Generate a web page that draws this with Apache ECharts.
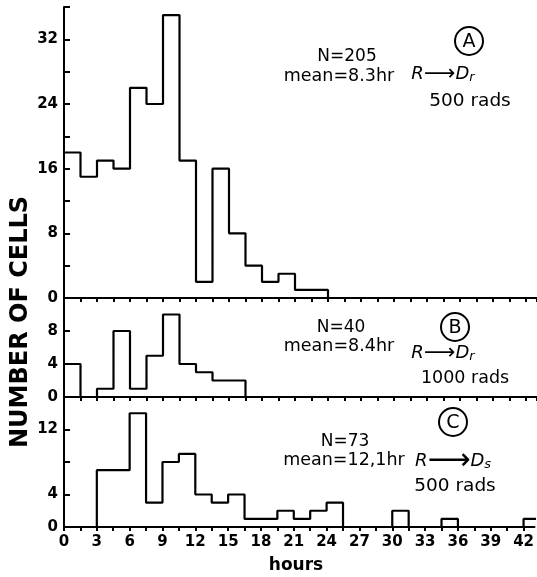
<!DOCTYPE html>
<html><head><meta charset="utf-8">
<script src="https://cdn.jsdelivr.net/npm/echarts@6/dist/echarts.min.js"></script>
<style>html,body{margin:0;padding:0;background:#fff}#c{width:537px;height:577px}</style>
</head><body><div id="c"></div><script>
// Histogram bins: width 1.5 hours starting at 0
const binWidth = 1.5;
const countsA = [18,15,17,16,26,24,35,17,2,16,8,4,2,3,1,1];
const countsB = [4,0,1,8,1,5,10,4,3,2,2];
const countsC = [0,0,7,7,14,3,8,9,4,3,4,1,1,2,1,2,3,0,0,0,2,0,0,1,0,0,0,0,1];
const xTickLabels = [0,3,6,9,12,15,18,21,24,27,30,33,36,39,42];
const yLabelsA = [0,8,16,24,32];
const yLabelsB = [0,4,8];
const yLabelsC = [0,4,12];
const xMax = 43;
const yMax = [36, 12, 16];

function stepData(counts){
  const d = counts.map((c,i)=>[i*binWidth, c]);
  d.push([counts.length*binWidth, 0]);
  return d;
}

const FONT = 'DejaVu Sans';
const grids = [
  {left:64, right:0, top:7, height:291},
  {left:64, right:0, top:298, height:99},
  {left:64, right:0, top:397, height:130}
];
const yLabelSets = [yLabelsA, yLabelsB, yLabelsC];

const xAxes = grids.map((g,i)=>({
  type:'value', gridIndex:i, min:0, max:xMax, interval:binWidth,
  splitLine:{show:false},
  axisLine:{show:true, onZero:false, lineStyle:{color:'#000', width:2}},
  axisTick:{show:true, inside:false, length:4, lineStyle:{color:'#000', width:2}},
  axisLabel:{show:i===2, color:'#000', fontFamily:FONT, fontWeight:'bold', fontSize:15, margin:8,
    showMaxLabel:false,
    formatter:v=>xTickLabels.includes(Math.round(v*10)/10)?String(v):''}
}));

const yAxes = grids.map((g,i)=>({
  type:'value', gridIndex:i, min:0, max:yMax[i], interval:4,
  splitLine:{show:false},
  axisLine:{show:true, lineStyle:{color:'#000', width:2}},
  axisTick:{show:true, inside:true, length:6, lineStyle:{color:'#000', width:2}},
  axisLabel:{color:'#000', fontFamily:FONT, fontWeight:'bold', fontSize:15, margin:6,
    formatter:v=>yLabelSets[i].includes(v)?String(v):''}
}));

const series = [countsA,countsB,countsC].map((c,i)=>({
  type:'line', xAxisIndex:i, yAxisIndex:i, step:'end', symbol:'none',
  data:stepData(c), clip:true,
  lineStyle:{color:'#000', width:2.2}
}));

function txt(x,y,text,size){
  return {type:'text', x:x, y:y, style:{text:text, fill:'#000',
    font:(size)+'px "'+FONT+'"', align:'center', verticalAlign:'middle'}};
}
function circled(x,y,letter){
  return [
    {type:'circle', shape:{cx:x, cy:y, r:14}, style:{fill:'none', stroke:'#000', lineWidth:2}},
    {type:'text', x:x, y:y+1, style:{text:letter, fill:'#000', font:'19px "'+FONT+'"', align:'center', verticalAlign:'middle'}}
  ];
}
function reaction(x,y,arrowSize,sub){
  return {type:'text', x:x, y:y, style:{
    text:'{i|R}{a|⟶}{i|D}{s|'+sub+'}', align:'center', verticalAlign:'middle',
    rich:{
      i:{fontFamily:FONT, fontStyle:'italic', fontSize:18, color:'#000'},
      a:{fontFamily:FONT, fontSize:arrowSize, color:'#000'},
      s:{fontFamily:FONT, fontStyle:'italic', fontSize:13, color:'#000', padding:[8,0,0,0]}
    }}};
}

const graphics = [
  txt(347,57,'N=205',17), txt(339,76,'mean=8.3hr',17.5),
  ...circled(469,41,'A'), reaction(443,74,22,'r'), txt(470,101,'500 rads',18.5),
  txt(341,328,'N=40',17), txt(339,346,'mean=8.4hr',17.5),
  ...circled(455,327,'B'), reaction(443,353,22,'r'), txt(465,378,'1000 rads',17.5),
  txt(345,442,'N=73',17), txt(344,460,'mean=12,1hr',17.5),
  ...circled(453,422,'C'), reaction(453,461,30,'s'), txt(455,486,'500 rads',18.5),
  {type:'text', x:296, y:566, style:{text:'hours', fill:'#000', font:'bold 17px "'+FONT+'"', align:'center', verticalAlign:'middle'}},
  {type:'text', x:21, y:322, rotation:Math.PI/2, style:{text:'NUMBER OF CELLS', fill:'#000', font:'bold 24px "'+FONT+'"', align:'center', verticalAlign:'middle'}}
];

const chart = echarts.init(document.getElementById('c'), null, {renderer:'canvas'});
chart.setOption({
  animation:false,
  backgroundColor:'#fff',
  grid:grids,
  xAxis:xAxes,
  yAxis:yAxes,
  series:series,
  graphic:graphics
});
</script></body></html>
